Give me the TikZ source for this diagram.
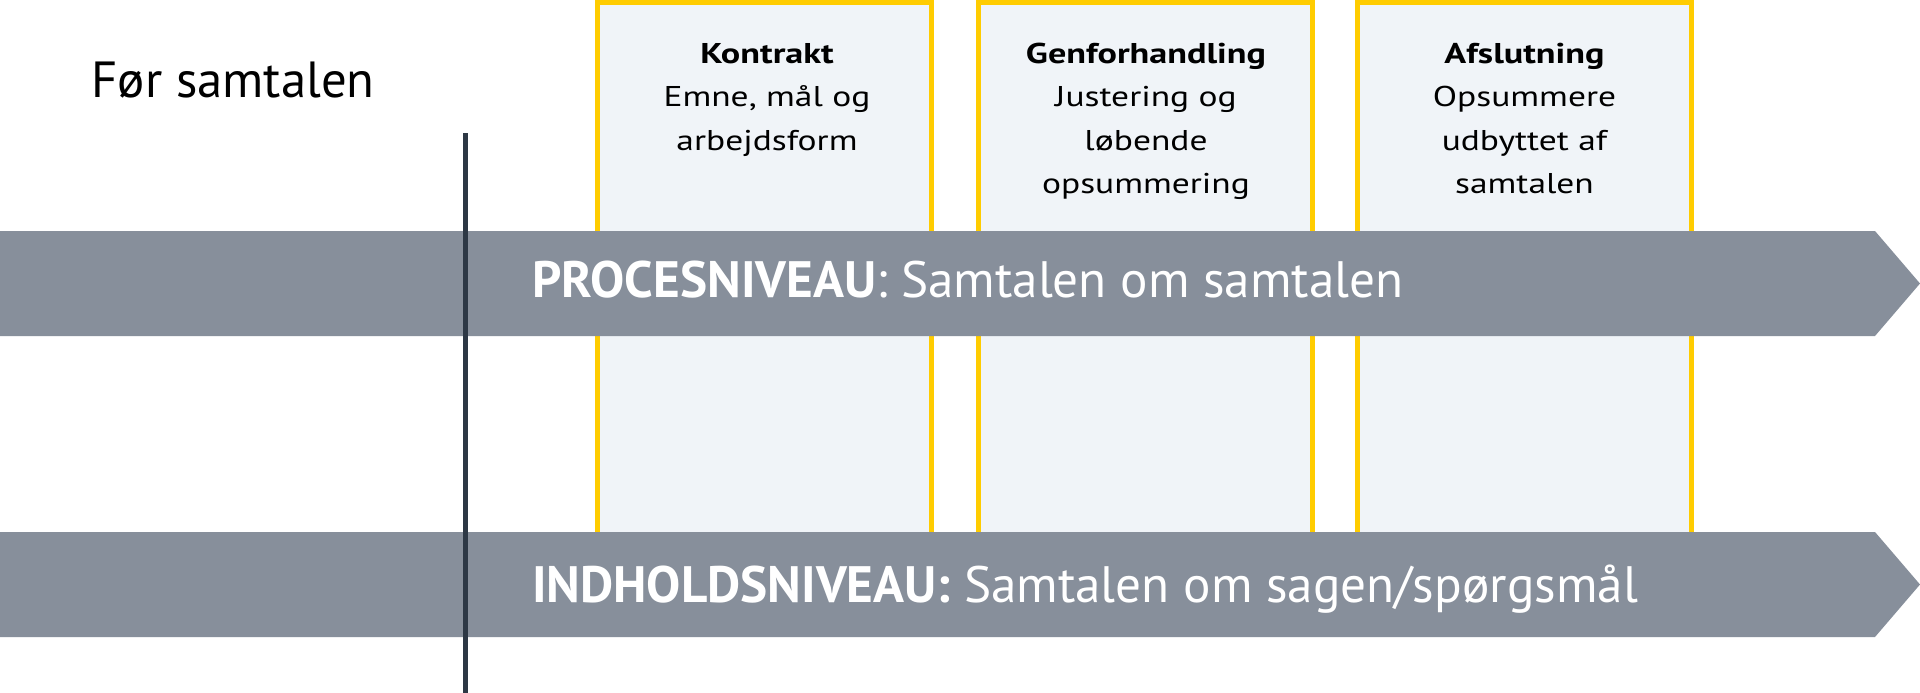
\documentclass[tikz,border=0pt]{standalone}
\usepackage{fontspec}
\setmainfont{PT Sans}
\newfontfamily\phasefont[FakeStretch=1.24, BoldFeatures={FakeStretch=1.265}]{PT Sans}
\definecolor{barGray}{HTML}{878F9B}
\definecolor{boxFill}{HTML}{F0F4F8}
\definecolor{phaseYellow}{HTML}{FFCC00}
\definecolor{lineDark}{HTML}{2D3845}
\tikzset{
  phasebox/.style={rectangle, draw=phaseYellow, line width=5pt, fill=boxFill,
    minimum width=334pt, minimum height=580pt, inner sep=0pt},
  phasetext/.style={anchor=north, align=center, inner sep=0pt, text=black,
    font=\phasefont\fontsize{28.6pt}{43.5pt}\selectfont},
  barshape/.style={fill=barGray, draw=none},
  bartext/.style={anchor=base west, inner sep=0pt, text=white,
    font=\fontsize{51.2pt}{60pt}\selectfont},
  divider/.style={draw=lineDark, line width=5pt},
  headtext/.style={anchor=base west, inner sep=0pt, text=black,
    font=\fontsize{50.8pt}{60pt}\selectfont}
}
\begin{document}
\begin{tikzpicture}[x=1pt,y=-1pt]
\path[use as bounding box, fill=white] (0,0) rectangle (1920,693);

% phase boxes (behind the bars)
\node[phasebox] (k) at (764.5,292.5) {};
\node[phasebox] (g) at (1145.5,292.5) {};
\node[phasebox] (a) at (1524.5,292.5) {};

\node[phasetext] (kt) at (767,42.8) {\textbf{Kontrakt}\\Emne, mål og\\arbejdsform};
\node[phasetext] (gt) at (1146,42.8) {\textbf{Genforhandling}\\Justering og\\løbende\\opsummering};
\node[phasetext] (at) at (1524.5,42.8) {\textbf{Afslutning}\\Opsummere\\udbyttet af\\samtalen};

% bars
\fill[barshape] (0,231) -- (1875,231) -- (1920,283.5) -- (1875,336) -- (0,336) -- cycle;
\fill[barshape] (0,532) -- (1875,532) -- (1920,584.5) -- (1875,637) -- (0,637) -- cycle;

\node[bartext] (proc) at (532,297) {\textbf{PROCESNIVEAU}: Samtalen om samtalen};
\node[bartext] (indh) at (532,602) {\textbf{INDHOLDSNIVEAU:} Samtalen om sagen/spørgsmål};

% before-conversation label and divider
\node[headtext] (foer) at (91.5,98) {Før samtalen};
\coordinate (divtop) at (465,133);
\coordinate (divbot) at (465,693);
\draw[divider] (divtop) -- (divbot);
\end{tikzpicture}
\end{document}
